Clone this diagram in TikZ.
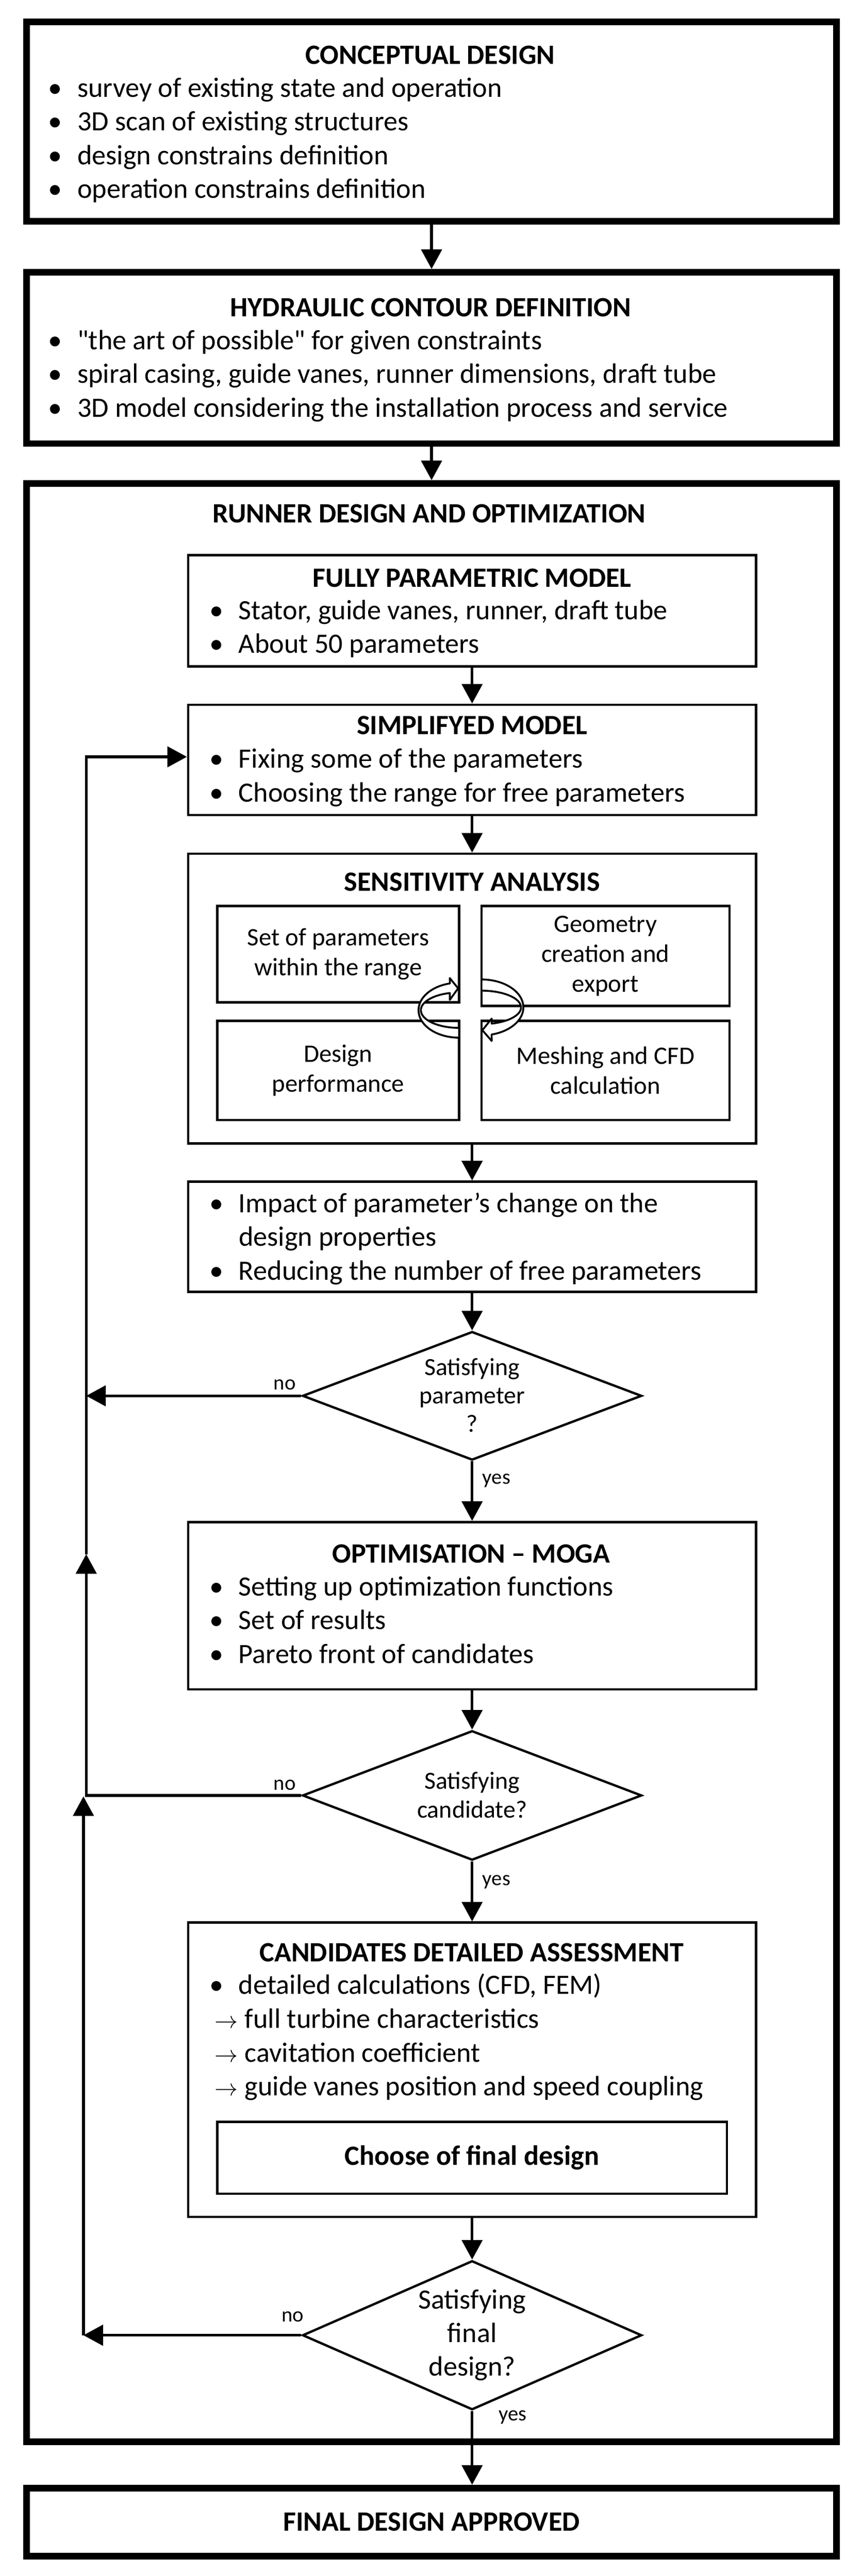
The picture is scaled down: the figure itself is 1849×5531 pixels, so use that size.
\documentclass[tikz,border=0pt]{standalone}
\usepackage{fontspec}
\setmainfont{Carlito}
\newfontfamily\carl{Carlito}
\usepackage{graphicx}
\usetikzlibrary{shapes.geometric,arrows.meta}
\newcommand\bl{\llap{\makebox[0pt]{•}\hspace{48pt}}}
\newcommand\ra{\hspace*{-52pt}\makebox[65pt][l]{\resizebox{50pt}{!}{$\rightarrow$}}}
\begin{document}
\begin{tikzpicture}[x=1pt, y=-1pt,
  bigbox/.style={draw, line width=14pt, rectangle, inner sep=0pt},
  box/.style={draw, line width=5pt, rectangle, inner sep=0pt},
  dia/.style={draw, diamond, line width=5pt, inner sep=0pt},
  conn/.style={line width=6pt, -{Triangle[length=42pt,width=44pt]}},
  curv/.style={draw, line width=4pt, fill=white, line join=round},
  title/.style={font=\fontsize{60}{73}\selectfont\bfseries, inner sep=0pt, anchor=base},
  list/.style={font=\fontsize{60}{72.5}\selectfont, inner sep=0pt, anchor=base west},
  sub/.style={box, align=center, font=\fontsize{54}{64}\selectfont},
  dtxt/.style={align=center, inner sep=0pt, font=\fontsize{53}{61}\selectfont},
  lbl/.style={inner sep=0pt, anchor=base west, font=\fontsize{45}{54}\selectfont}]
\fill[white] (0,0) rectangle (1849,5531);
\useasboundingbox (0,0) rectangle (1849,5531);

% outer boxes
\node[bigbox, minimum width=1738pt, minimum height=428pt] (conc) at (926,261) {};
\node[bigbox, minimum width=1738pt, minimum height=368pt] (hyd) at (926,768.5) {};
\node[bigbox, minimum width=1738pt, minimum height=4205pt] (run) at (926,3140.5) {};
\node[bigbox, minimum width=1738pt, minimum height=146pt, font=\fontsize{60}{73}\selectfont\bfseries] (fin) at (926,5415) {FINAL DESIGN APPROVED};

\node[title] (conc-t) at (923,138) {CONCEPTUAL DESIGN};
\node[list] (conc-l) at (166,208) {\begin{tabular}[t]{@{}l@{}}
\bl survey of existing state and operation\\
\bl 3D scan of existing structures\\
\bl design constrains definition\\
\bl operation constrains definition
\end{tabular}};

\node[title] (hyd-t) at (924,680) {HYDRAULIC CONTOUR DEFINITION};
\node[list] (hyd-l) at (166,750) {\begin{tabular}[t]{@{}l@{}}
\bl {\carl"}the art of possible{\carl"} for given constraints\\
\bl spiral casing, guide vanes, runner dimensions, draft tube\\
\bl 3D model considering the installation process and service
\end{tabular}};

\node[title] (run-t) at (921,1122) {RUNNER DESIGN AND OPTIMIZATION};

% inner boxes
\node[box, minimum width=1219pt, minimum height=239pt] (fpm) at (1013,1311.5) {};
\node[title] (fpm-t) at (1013,1260) {FULLY PARAMETRIC MODEL};
\node[list] (fpm-l) at (512,1330) {\begin{tabular}[t]{@{}l@{}}
\bl Stator, guide vanes, runner, draft tube\\
\bl About 50 parameters
\end{tabular}};

\node[box, minimum width=1219pt, minimum height=237pt] (simp) at (1013,1631.5) {};
\node[title] (simp-t) at (1013,1577) {SIMPLIFYED MODEL};
\node[list] (simp-l) at (512,1649) {\begin{tabular}[t]{@{}l@{}}
\bl Fixing some of the parameters\\
\bl Choosing the range for free parameters
\end{tabular}};

\node[box, minimum width=1219pt, minimum height=622pt] (sens) at (1013,2144) {};
\node[title] (sens-t) at (1013,1913) {SENSITIVITY ANALYSIS};
\node[sub, minimum width=519pt, minimum height=207pt] (s1) at (725.5,2048.5) {Set of parameters\\within the range};
\node[sub, minimum width=532pt, minimum height=215pt] (s2) at (1299,2052.5) {Geometry\\creation and\\export};
\node[sub, minimum width=532pt, minimum height=213pt] (s3) at (1299,2298.5) {Meshing and CFD\\calculation};
\node[sub, minimum width=519pt, minimum height=213pt] (s4) at (725.5,2298.5) {Design\\performance};

% circular arrows
\draw[curv] (985,2228) arc[start angle=90, end angle=257, x radius=87, y radius=59]
  -- (965,2100) -- (983,2122) -- (965,2147) -- (965.2,2132.1)
  arc[start angle=256, end angle=90, x radius=82, y radius=38] -- cycle;
\draw[curv] (1033,2103) arc[start angle=-90, end angle=75.9, x radius=90, y radius=60]
  -- (1055,2235) -- (1035,2212) -- (1055,2187) -- (1055,2197.8)
  arc[start angle=75, end angle=-90, x radius=85, y radius=36] -- cycle;

\node[box, minimum width=1219pt, minimum height=237pt] (imp) at (1013,2655.5) {};
\node[list] (imp-l) at (512,2603) {\begin{tabular}[t]{@{}l@{}}
\bl Impact of parameter’s change on the\\
design properties\\
\bl Reducing the number of free parameters
\end{tabular}};

\node[dia, minimum width=728pt, minimum height=276pt] (d1) at (1013,2997) {};
\node[dtxt] (d1-t) at (1013,2996) {Satisfying\\parameter\\?};

\node[box, minimum width=1219pt, minimum height=359pt] (moga) at (1013,3447.5) {};
\node[title] (moga-t) at (1011,3356) {OPTIMISATION – MOGA};
\node[list] (moga-l) at (512,3426) {\begin{tabular}[t]{@{}l@{}}
\bl Setting up optimization functions\\
\bl Set of results\\
\bl Pareto front of candidates
\end{tabular}};

\node[dia, minimum width=728pt, minimum height=278pt] (d2) at (1013,3855) {};
\node[dtxt] (d2-t) at (1013,3854) {Satisfying\\candidate?};

\node[box, minimum width=1219pt, minimum height=632pt] (cda) at (1013,4444) {};
\node[title] (cda-t) at (1012,4212) {CANDIDATES DETAILED ASSESSMENT};
\node[list] (cda-l) at (512,4282) {\begin{tabular}[t]{@{}l@{}}
\bl detailed calculations (CFD, FEM)\\
\ra full turbine characteristics\\
\ra cavitation coefficient\\
\ra guide vanes position and speed coupling
\end{tabular}};
\node[box, minimum width=1093pt, minimum height=154pt, font=\fontsize{60}{73}\selectfont\bfseries] (choose) at (1013,4633) {Choose of final design};

\node[dia, minimum width=728pt, minimum height=320pt] (d3) at (1013,5014) {};
\node[dtxt, font=\fontsize{60}{72}\selectfont] (d3-t) at (1013,5014) {Satisfying\\final\\design?};

% labels
\node[lbl] (no1) at (587,2984) {no};
\node[lbl] (no2) at (587,3843) {no};
\node[lbl] (no3) at (604,4985) {no};
\node[lbl] (yes1) at (1035,3186) {yes};
\node[lbl] (yes2) at (1035,4048) {yes};
\node[lbl] (yes3) at (1070,5197) {yes};

% main flow
\draw[conn] (conc.south) -- (hyd.north);
\draw[conn] (hyd.south) -- (run.north);
\draw[conn] (fpm.south) -- (simp.north);
\draw[conn] (simp.south) -- (sens.north);
\draw[conn] (sens.south) -- (imp.north);
\draw[conn] (imp.south) -- (d1.north);
\draw[conn] (d1.south) -- (moga.north);
\draw[conn] (moga.south) -- (d2.north);
\draw[conn] (d2.south) -- (cda.north);
\draw[conn] (cda.south) -- (d3.north);
\draw[conn] (d3.south) -- (d3.south |- fin.north);

% feedback loops
\coordinate (j1) at (185,2997);
\coordinate (j2) at (185,3855);
\coordinate (jm) at (185,3337);
\coordinate (j3) at (185,1625);
\coordinate (j4) at (179,5014);
\coordinate (j5) at (179,3857);
\draw[conn] (d1.west) -- (j1);
\draw[conn] (d2.west) -- (j2) -- (jm);
\draw[conn] (jm) -- (j3) -- (j3 -| simp.west);
\draw[conn] (d3.west) -- (j4);
\draw[conn] (j4) -- (j5);
\end{tikzpicture}
\end{document}
